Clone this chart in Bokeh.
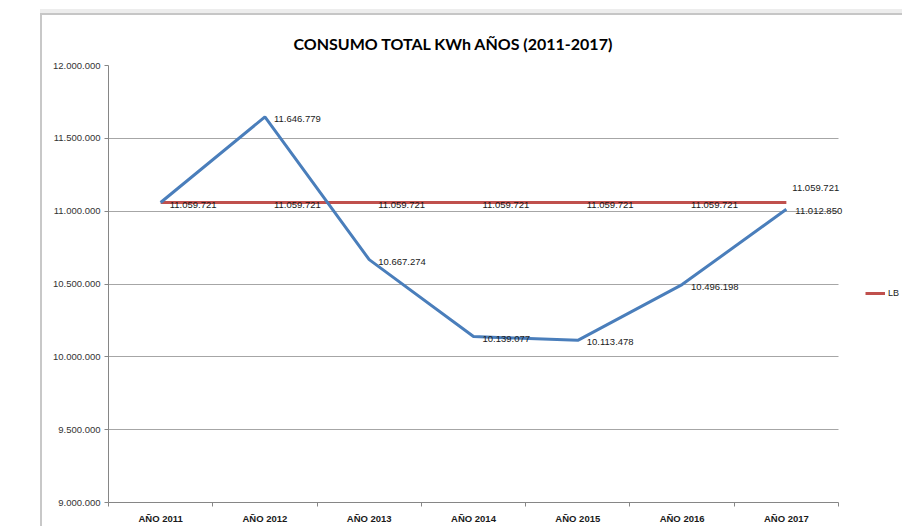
from bokeh.plotting import figure
from bokeh.models import Range1d, FixedTicker, Legend, LegendItem, ColumnDataSource
from bokeh.core.properties import value
from bokeh.embed import file_html
from bokeh.resources import INLINE

title = "CONSUMO TOTAL KWh AÑOS (2011-2017)"
categories = ["AÑO 2011", "AÑO 2012", "AÑO 2013", "AÑO 2014", "AÑO 2015", "AÑO 2016", "AÑO 2017"]
consumo = [11059721, 11646779, 10667274, 10139077, 10113478, 10496198, 11012850]
lb = [11059721, 11059721, 11059721, 11059721, 11059721, 11059721, 11059721]
lb_name = "LB"
y_ticks = [9000000, 9500000, 10000000, 10500000, 11000000, 11500000, 12000000]


def fmt(v):
    return f"{v:,}".replace(",", ".")


n = len(categories)
xs = [i + 0.5 for i in range(n)]
bounds = list(range(n + 1))

W, H = 902, 526
PL, PR = 108, 838          # plot-area pixel extent of the categories
# frame extends to the right edge so labels / legend past the plot area are not clipped
x_end = n * (W - PL) / (PR - PL)
p = figure(width=W, height=H, output_backend="svg", toolbar_location=None,
           x_range=Range1d(0, x_end), y_range=Range1d(y_ticks[0], y_ticks[-1]),
           min_border_left=PL, min_border_right=0, min_border_top=65, min_border_bottom=H - 503)
p.outline_line_color = None
p.background_fill_color = "white"
p.border_fill_alpha = 0
# chart-area frame of the spreadsheet (gray band on top, gray left edge)
p.styles = {
    "background": ("linear-gradient(#c6c6c6, #c6c6c6) 40px 13px / 100% 2px no-repeat, "
                   "linear-gradient(#ededed, #ededed) 40px 9px / 100% 4px no-repeat, "
                   "linear-gradient(#c8c8c8, #c8c8c8) 40px 9px / 2px 100% no-repeat, "
                   "white"),
}

# title
p.title.text = title
p.title.text_font = "Lato"
p.title.text_font_style = "bold"
p.title.text_font_size = "16px"
p.title.text_color = "#000000"
p.title.align = "left"
p.title.offset = 185
p.title.standoff = 26

# x axis
xa = p.xaxis[0]
xa.bounds = (0, n)
xa.ticker = FixedTicker(ticks=xs, minor_ticks=bounds)
xa.major_label_overrides = {x: c for x, c in zip(xs, categories)}
xa.major_tick_line_color = None
xa.major_tick_out = 0
xa.major_tick_in = 0
xa.minor_tick_out = 4
xa.minor_tick_in = 0
xa.minor_tick_line_color = "#868686"
xa.axis_line_color = "#868686"
xa.major_label_standoff = 6
xa.major_label_text_font = "Liberation Sans"
xa.major_label_text_font_style = "bold"
xa.major_label_text_font_size = "9.5px"
xa.major_label_text_color = "#1a1a1a"

# y axis
ya = p.yaxis[0]
ya.ticker = FixedTicker(ticks=y_ticks)
ya.major_label_overrides = {t: fmt(t) for t in y_ticks}
ya.minor_tick_line_color = None
ya.major_tick_out = 4
ya.major_tick_in = 0
ya.major_tick_line_color = "#868686"
ya.axis_line_color = "#868686"
ya.major_label_standoff = 4
ya.major_label_text_font = "Liberation Sans"
ya.major_label_text_font_size = "9.5px"
ya.major_label_text_color = "#333333"

p.xgrid.grid_line_color = None
p.ygrid.grid_line_color = "#a6a6a6"
p.ygrid.grid_line_width = 1
p.ygrid.cross_bounds = (0, n)

src = ColumnDataSource(dict(x=xs, consumo=consumo, lb=lb))

r_lb = p.line("x", "lb", source=src, line_color="#c0504d", line_width=3)
p.line("x", "consumo", source=src, line_color="#4a7ebb", line_width=3)

font = value("Liberation Sans")
p.text(x=xs[:-1], y=lb[:-1], text=[fmt(v) for v in lb[:-1]], x_offset=9, y_offset=3,
       text_font=font, text_font_size="9.5px", text_baseline="middle", text_align="left",
       text_color="#1a1a1a")
p.text(x=xs[-1:], y=lb[-1:], text=[fmt(v) for v in lb[-1:]], x_offset=6, y_offset=-14,
       text_font=font, text_font_size="9.5px", text_baseline="middle", text_align="left",
       text_color="#1a1a1a")
p.text(x=xs[1:], y=consumo[1:], text=[fmt(v) for v in consumo[1:]], x_offset=9, y_offset=2,
       text_font=font, text_font_size="9.5px", text_baseline="middle", text_align="left",
       text_color="#1a1a1a")

legend = Legend(items=[LegendItem(label=lb_name, renderers=[r_lb])],
                location=(757, 204), orientation="vertical",
                border_line_color=None, background_fill_alpha=0,
                glyph_width=20, glyph_height=10, label_standoff=3, padding=0, margin=0,
                label_text_font="Liberation Sans", label_text_font_size="9px",
                label_text_color="#1a1a1a")
p.add_layout(legend, "center")

open("out.html", "w").write(file_html(p, INLINE))
